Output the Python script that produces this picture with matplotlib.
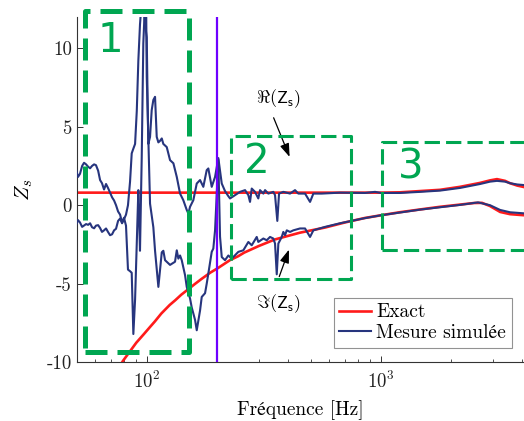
import numpy as np
import matplotlib
matplotlib.use("Agg")
import matplotlib.pyplot as plt

plt.rcParams['font.family'] = ['cmr10', 'STIXGeneral', 'DejaVu Serif']
plt.rcParams['mathtext.fontset'] = 'cm'
plt.rcParams['axes.formatter.use_mathtext'] = True
plt.rcParams['axes.unicode_minus'] = False

# ---------------- data ----------------
# Exact solution
exact_re_f = [50, 800, 1000, 1206, 1468, 1787, 2177, 2650, 2923, 3130, 3390, 3560, 3820, 4100]
exact_re_v = [0.8, 0.8, 0.8, 0.82, 0.9, 0.98, 1.17, 1.42, 1.58, 1.66, 1.55, 1.4, 1.25, 1.15]

exact_im_f = [70, 79, 90, 97, 103, 108, 115, 125, 132, 140, 153, 160, 170, 186, 201, 226, 245,
              260, 300, 352, 450, 577, 700, 855, 1000, 1200, 1470, 1790, 2180, 2500, 2700, 2920,
              3230, 3560, 4100]
exact_im_v = [-11.2, -9.9, -8.75, -8.2, -7.75, -7.4, -6.9, -6.35, -6.05, -5.7, -5.25, -5.02,
              -4.72, -4.3, -4.0, -3.5, -3.25, -3.02, -2.6, -2.18, -1.75, -1.42, -1.1, -0.81,
              -0.64, -0.45, -0.27, -0.1, 0.04, 0.14, 0.15, -0.05, -0.43, -0.57, -0.64]

# Simulated measurement, real part
meas_re_f = [49.7, 50.7, 51.7, 52.8, 54.9, 56.0, 57.1, 58.2, 59.4, 60.5, 61.8, 63.0, 64.2, 65.5,
             66.8, 68.1, 69.5, 70.9, 72.3, 73.7, 75.2, 76.7, 78.2, 79.7, 81.3, 82.9, 84.6, 86.0,
             87.4, 88.9, 90.4, 91.8, 93.3, 94.9, 96.4, 98.1, 99.7, 100.5, 101.3, 103.0, 104.7,
             106.4, 108.2, 110.0, 111.8, 113.7, 115.6, 117.4, 119.4, 121.4, 125.4, 129.6, 134.0,
             138.4, 142.9, 147.8, 150.2, 152.7, 157.7, 163.1, 168.5, 174.0, 179.9, 182.8, 189.0,
             195.3, 201.7, 208.6, 215.4, 222.0, 226.3, 237.7, 249.7, 262.4, 271.0, 275.5, 280.2,
             289.4, 298.9, 304.0, 314.1, 319.4, 329.9, 346.5, 352.4, 360.4, 366.6, 382.4, 408.5,
             429.0, 443.2, 473.5, 497.4, 513.8, 558.1, 668.1, 854.5, 942.8, 1000, 1206, 1468,
             1787, 2177, 2650, 2923, 3130, 3390, 3560, 3820, 4100]
meas_re_v = [-1.27, -0.95, -1.1, -1.38, -1.2, -1.25, -1.15, -1.4, -1.47, -1.3, -1.27, -1.45, -1.7,
             -1.6, -1.48, -1.7, -1.91, -1.85, -1.6, -1.5, -1.0, -0.85, -1.15, -0.9, -0.6, 0.0, 1.5,
             3.3, 3.6, 3.9, 6.0, 9.2, 11.5, 13.0, 13.0, 11.5, 10.7, 7.0, 3.9, 4.35, 6.05, 6.7, 6.9,
             4.35, 4.0, 4.1, 4.25, 3.9, 3.8, 3.7, 2.87, 2.67, 1.8, 0.74, 0.32, -0.3, -0.53, -0.1,
             0.32, 1.38, 1.6, 1.17, 2.23, 2.34, 1.17, 1.8, 3.0, 1.38, 0.9, 0.6, 0.43, 0.64, 0.85,
             0.96, 0.64, 0.21, 1.06, 0.85, 0.43, 0.96, 0.74, 0.96, 0.74, 0.85, 0.64, -1.0, 0.74,
             0.85, 0.74, 0.96, 0.74, 0.74, 0.21, 0.74, 0.74, 0.8, 0.78, 0.85, 0.78, 0.78, 0.85,
             0.93, 1.1, 1.35, 1.5, 1.55, 1.5, 1.4, 1.32, 1.28]

# Simulated measurement, imaginary part
meas_im_f = [49.7, 50.7, 51.7, 52.8, 53.8, 54.9, 56.0, 57.1, 58.2, 59.4, 60.5, 61.8, 63.0, 64.2,
             65.5, 66.8, 68.1, 69.5, 70.9, 72.3, 73.7, 75.2, 76.7, 78.2, 79.7, 81.3, 82.9, 84.6,
             86.0, 87.4, 88.9, 90.4, 91.8, 92.6, 93.3, 94.9, 96.4, 98.1, 99.1, 99.7, 103.0, 106.4,
             108.2, 111.8, 115.6, 117.4, 119.4, 125.4, 131.7, 134.0, 136.1, 138.4, 140.7, 145.4,
             147.8, 152.7, 155.2, 160.4, 163.1, 168.5, 171.3, 177.0, 179.9, 182.8, 189.0, 192.0,
             195.3, 201.7, 205.1, 208.6, 215.4, 222.6, 230.1, 245.6, 258.0, 271.0, 280.2, 294.3,
             298.9, 314.1, 324.8, 335.5, 346.5, 352.4, 358.4, 364.1, 376.4, 382.4, 388.9, 395.5,
             408.5, 421.9, 450.7, 473.5, 497.4, 513.8, 576.5, 668.1, 854.5, 1000, 1468, 2177,
             2597, 2923, 3226, 3560, 4100]
meas_im_v = [2.3, 1.8, 2.0, 2.5, 2.7, 2.6, 2.45, 2.35, 2.5, 2.6, 2.55, 2.2, 1.6, 1.4, 1.0, 1.35,
             1.1, 0.8, 0.5, 0.3, 0.0, -0.4, -0.6, -1.1, -0.8, -1.3, -4.1, -4.2, -4.3, -8.2, -6.0,
             -2.4, 0.96, -1.0, -2.9, 3.0, 10.3, 13.0, 13.0, 8.2, 0.1, -1.4, -2.9, -5.2, -3.0,
             -2.9, -3.5, -3.8, -3.6, -2.87, -3.4, -3.2, -3.5, -4.46, -5.2, -5.94, -6.5, -7.3,
             -7.96, -6.7, -5.84, -5.6, -5.0, -4.35, -2.97, -2.76, -1.6, 2.9, -2.0, -3.3, -3.5,
             -3.2, -3.4, -2.97, -2.87, -2.34, -2.55, -2.02, -2.34, -2.12, -2.23, -2.02, -2.12,
             -2.44, -4.4, -2.44, -2.02, -1.7, -1.91, -1.6, -1.7, -1.6, -1.48, -1.48, -2.02, -1.6,
             -1.38, -1.15, -0.82, -0.64, -0.28, 0.02, 0.18, 0.0, -0.3, -0.45, -0.52]

f_cut = 200            # purple vertical line
zone_boxes = [         # (f_min, f_max, y_min, y_max, label, label_f, label_y, lw)
    (54.3, 151, -9.34, 12.36, '1', 69.5, 9.75, 3.6),
    (228, 741, -4.71, 4.39, '2', 294, 2.04, 2.2),
    (1007, 6000, -2.87, 4.03, '3', 1343, 1.70, 2.2),
]

# ---------------- figure ----------------
fig = plt.figure(figsize=(5.24, 4.21), dpi=100)
ax = fig.add_axes([76.6 / 524, 1 - 362.3 / 421, 447.8 / 524, 345.6 / 421])

red = '#ff1a1a'
navy = '#27357e'
green = '#00a651'
purple = '#6e00ff'

ax.plot(exact_re_f, exact_re_v, color=red, lw=1.9, label='Exact', zorder=2)
ax.plot(exact_im_f, exact_im_v, color=red, lw=1.9, zorder=2)
ax.plot(meas_re_f, meas_re_v, color=navy, lw=1.5, label='Mesure simulée', zorder=3)
ax.plot(meas_im_f, meas_im_v, color=navy, lw=1.5, zorder=3)
ax.axvline(f_cut, color=purple, lw=1.6, zorder=4)

for (x0, x1, y0, y1, lab, lf, ly, lw) in zone_boxes:
    dash = (0, (4.4, 2.0)) if lw > 3 else (0, (5.0, 2.0))
    ax.plot([x0, x1, x1, x0, x0], [y0, y0, y1, y1, y0], color=green, lw=lw,
            linestyle=dash, clip_on=False, zorder=5)
    ax.text(lf, ly, lab, color=green, fontsize=29, family='DejaVu Sans',
            ha='center', va='baseline', zorder=6)

ax.set_xscale('log')
ax.set_xlim(50, 4100)
ax.set_ylim(-10, 12)
ax.set_yticks([-10, -5, 0, 5, 10])
ax.set_yticklabels(['-10', '-5', '0', '5', '10'])

for s in ['top', 'right']:
    ax.spines[s].set_visible(False)
for s in ['left', 'bottom']:
    ax.spines[s].set_color('#333333')
    ax.spines[s].set_linewidth(0.8)

ax.tick_params(axis='both', which='major', direction='in', length=4, width=0.7,
               labelsize=13.5, colors='#333333', labelcolor='#222222')
ax.tick_params(axis='x', which='minor', direction='in', length=2.5, width=0.6, colors='#333333')
ax.tick_params(axis='x', which='major', pad=6)

ax.set_xlabel('Fréquence [Hz]', fontsize=14, labelpad=6)
ax.set_ylabel(r'$Z_s$', fontsize=15, labelpad=8)

# annotations
ax.annotate('', xy=(411, 2.91), xytext=(344, 5.73),
            arrowprops=dict(arrowstyle='-|>,head_length=0.8,head_width=0.28', color='black', lw=0.9))
ax.text(364, 6.48, r'$\Re(\mathsf{Z}_\mathsf{s})$', fontsize=13, ha='center', va='baseline')
ax.annotate('', xy=(408, -2.66), xytext=(364, -4.71),
            arrowprops=dict(arrowstyle='-|>,head_length=0.8,head_width=0.28', color='black', lw=0.9))
ax.text(364, -6.56, r'$\Im(\mathsf{Z}_\mathsf{s})$', fontsize=13, ha='center', va='baseline')

leg = ax.legend(loc='lower right', bbox_to_anchor=(0.9723, 0.0414), borderaxespad=0,
                fontsize=14, frameon=True, fancybox=False, edgecolor='#777777',
                handlelength=1.6, handletextpad=0.3, labelspacing=0.15, borderpad=0.3)
leg.get_frame().set_linewidth(0.8)
leg.set_zorder(10)

fig.savefig('out.png', dpi=100)
